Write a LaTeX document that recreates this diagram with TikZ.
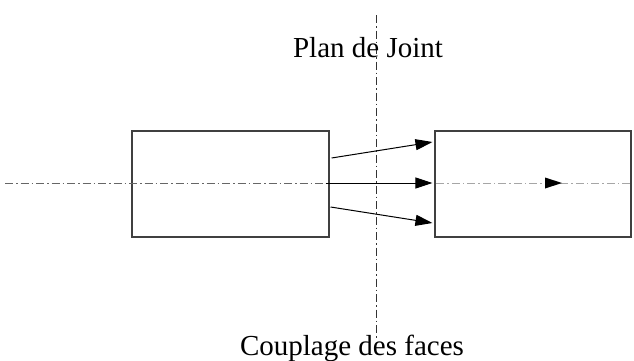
\documentclass[tikz,border=0pt]{standalone}
\usepackage{fontspec}
\setmainfont{Liberation Serif}
\usetikzlibrary{arrows.meta}
\begin{document}
\begin{tikzpicture}[x=1pt,y=1pt,
  block/.style={draw=black!75,line width=1.1pt,minimum width=197pt,minimum height=106pt,inner sep=0pt},
  axisline/.style={line width=0.9pt,dash pattern=on 8pt off 3pt on 1.5pt off 3pt},
  vec/.style={line width=1pt,-{Triangle[length=17pt,width=11pt]}},
  lbl/.style={font=\fontsize{29}{32}\selectfont,anchor=base,inner sep=0pt}]
\useasboundingbox (0,0) rectangle (634,360);
\node[block] (L) at (230.5,176) {};
\node[block,minimum width=196pt] (R) at (533,176) {};
\coordinate (axL) at (5,177);
\coordinate (axR) at (633,177);
\coordinate (vT) at (376,345);
\coordinate (vB) at (376,20);
\coordinate (inTip) at (562,177);
\draw[axisline,black!60] (axL) -- ([xshift=-4pt,yshift=1pt]L.east);
\draw[axisline,black!35] ([xshift=2pt,yshift=1pt]R.west) -- (axR);
\draw[axisline,black!80,line width=0.8pt] (vT) -- (vB);
\draw[vec] ([xshift=2pt,yshift=26pt]L.east) -- ([xshift=-2pt,yshift=42pt]R.west);
\draw[vec] ([xshift=-4pt,yshift=1pt]L.east) -- ([xshift=-2pt,yshift=1pt]R.west);
\draw[vec] ([xshift=1pt,yshift=-23pt]L.east) -- ([xshift=-2pt,yshift=-39pt]R.west);
\fill (inTip) -- ++(-17,5.5) -- ++(0,-11) -- cycle;
\node[lbl] (top) at (368,303) {Plan de Joint};
\node[lbl] (bot) at (352,5) {Couplage des faces};
\end{tikzpicture}
\end{document}
